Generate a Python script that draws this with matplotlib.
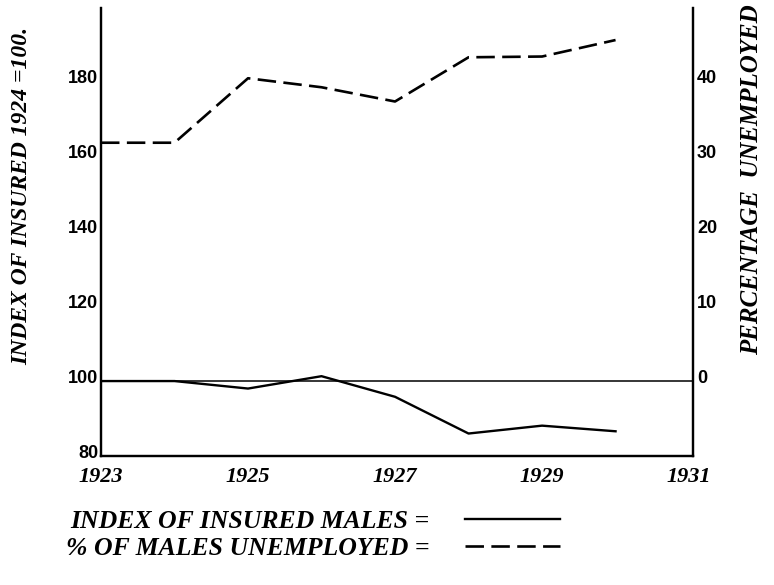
import matplotlib
matplotlib.use("Agg")
import matplotlib.pyplot as plt
import matplotlib.transforms as mtransforms

# values
years = [1923, 1924, 1925, 1926, 1927, 1928, 1929, 1930]
index_insured = [100, 100, 98.0, 101.3, 95.8, 86.0, 88.1, 86.6]
pct_unemployed = [31.8, 31.8, 40.4, 39.2, 37.3, 43.2, 43.3, 45.5]

x_ticks = [1923, 1925, 1927, 1929, 1931]
left_ticks = [80, 100, 120, 140, 160, 180]
right_ticks = [0, 10, 20, 30, 40]

serif = "Liberation Serif"
nums = ["Liberation Sans", "DejaVu Sans"]

fig = plt.figure(figsize=(7.74, 5.85), dpi=100)
ax = fig.add_axes([0.1305, 0.2205, 0.7645, 0.7655])
ax2 = ax.twinx()

ax.axhline(100, color="black", lw=1.1)
h1, = ax.plot(years, index_insured, color="black", lw=1.7)
h2, = ax2.plot(years, pct_unemployed, color="black", lw=1.9,
               linestyle=(0, (7, 2.8)))

ax.set_xlim(1923, 1931.05)
ax.set_ylim(80, 199.5)
ax2.set_ylim(-10, 49.75)

for a in (ax, ax2):
    a.spines["top"].set_visible(False)
    for s in ("left", "right", "bottom"):
        a.spines[s].set_linewidth(1.6)

ax.set_xticks(x_ticks)
ax.set_xticklabels([str(t) for t in x_ticks], fontfamily=serif,
                   fontstyle="italic", fontweight="bold", fontsize=16)
ax.tick_params(axis="x", length=0, pad=8)

ax.set_yticks(left_ticks)
ax.set_yticklabels([str(t) for t in left_ticks], family=nums,
                   fontweight="bold", fontsize=13)
ax.tick_params(axis="y", length=0, pad=2)

ax2.set_yticks(right_ticks)
ax2.set_yticklabels([str(t) for t in right_ticks], family=nums,
                    fontweight="bold", fontsize=13)
ax2.tick_params(axis="y", length=0, pad=3)

# the hand-lettered numbers sit a little above their levels
lift = mtransforms.ScaledTranslation(0, 5 / 100, fig.dpi_scale_trans)
for lab in ax.get_yticklabels() + ax2.get_yticklabels():
    lab.set_transform(lab.get_transform() + lift)

fig.text(22 / 774, 1 - 196 / 585, "INDEX OF INSURED 1924 =100.",
         rotation=90, ha="center", va="center", fontfamily=serif,
         fontstyle="italic", fontweight="bold", fontsize=17)
fig.text(752 / 774, 1 - 180 / 585, "PERCENTAGE  UNEMPLOYED",
         rotation=90, ha="center", va="center", fontfamily=serif,
         fontstyle="italic", fontweight="bold", fontsize=18)

ax2.legend([h1, h2], ["INDEX OF INSURED MALES =", "% OF MALES UNEMPLOYED ="],
           markerfirst=False, frameon=False, loc="upper left",
           bbox_to_anchor=(66 / 774, 1 - 510 / 585),
           bbox_transform=fig.transFigure, borderpad=0, borderaxespad=0,
           handlelength=3.7, handletextpad=1.37, labelspacing=0.17,
           prop={"family": serif, "style": "italic", "weight": "bold",
                 "size": 18.5})

fig.savefig("out.png", dpi=100)
